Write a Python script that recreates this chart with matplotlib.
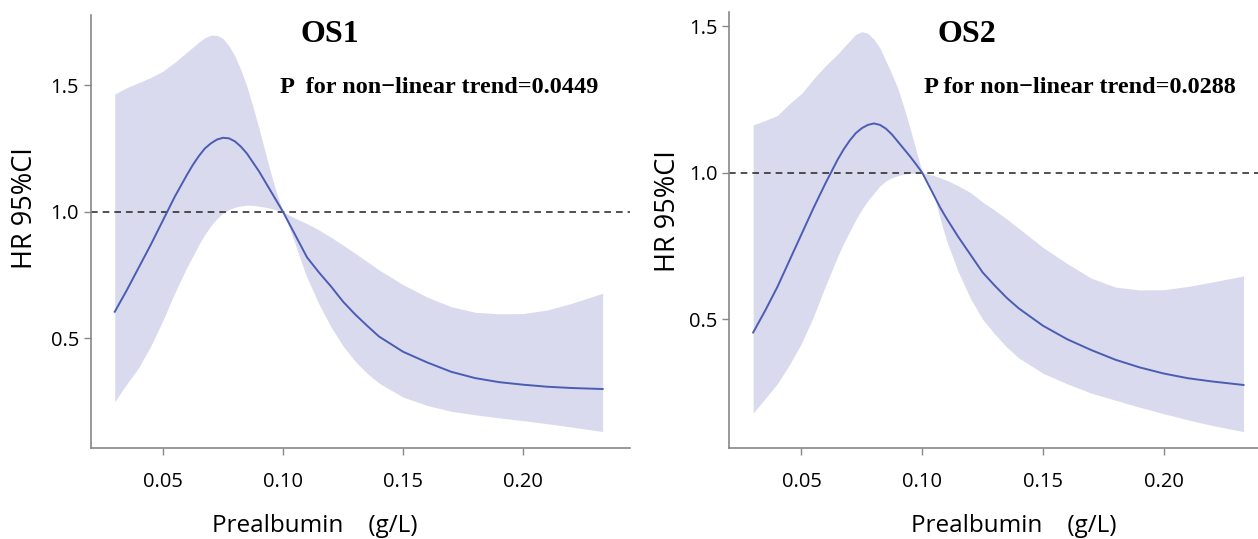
import matplotlib
matplotlib.use("Agg")
import matplotlib.pyplot as plt

# ---------------- data ----------------
x_os1 = [0.030, 0.035, 0.040, 0.045, 0.050, 0.055, 0.060, 0.0625, 0.065, 0.0675,
         0.070, 0.0725, 0.075, 0.0775, 0.080, 0.0825, 0.085, 0.0875, 0.090, 0.0925,
         0.095, 0.0975, 0.100, 0.1025, 0.105, 0.1075, 0.110, 0.115, 0.120, 0.125,
         0.130, 0.135, 0.140, 0.150, 0.160, 0.170, 0.180, 0.190, 0.200, 0.210,
         0.220, 0.233]
hr_os1 = [0.605, 0.69, 0.78, 0.87, 0.965, 1.06, 1.145, 1.185, 1.22, 1.25,
          1.27, 1.285, 1.292, 1.29, 1.278, 1.257, 1.23, 1.195, 1.16, 1.12,
          1.08, 1.04, 1.0, 0.955, 0.91, 0.865, 0.82, 0.76, 0.705, 0.645,
          0.595, 0.55, 0.507, 0.447, 0.405, 0.368, 0.343, 0.327, 0.317, 0.309,
          0.304, 0.300]
up_os1 = [1.465, 1.49, 1.51, 1.53, 1.555, 1.59, 1.63, 1.65, 1.67, 1.687,
          1.697, 1.697, 1.685, 1.655, 1.615, 1.56, 1.495, 1.415, 1.33, 1.24,
          1.15, 1.07, 1.0, 0.987, 0.975, 0.964, 0.953, 0.928, 0.899, 0.868,
          0.836, 0.803, 0.770, 0.712, 0.663, 0.625, 0.603, 0.597, 0.598, 0.612,
          0.638, 0.678]
lo_os1 = [0.25, 0.32, 0.385, 0.47, 0.57, 0.68, 0.78, 0.825, 0.87, 0.91,
          0.945, 0.972, 0.995, 1.008, 1.018, 1.023, 1.026, 1.025, 1.022, 1.018,
          1.013, 1.007, 1.0, 0.94, 0.875, 0.805, 0.74, 0.635, 0.545, 0.47,
          0.41, 0.362, 0.323, 0.268, 0.235, 0.212, 0.198, 0.186, 0.175, 0.163,
          0.150, 0.132]

x_os2 = [0.030, 0.035, 0.040, 0.045, 0.050, 0.055, 0.060, 0.0625, 0.065, 0.0675,
         0.070, 0.0725, 0.075, 0.0775, 0.080, 0.0825, 0.085, 0.0875, 0.090, 0.0925,
         0.095, 0.0975, 0.100, 0.1025, 0.105, 0.1075, 0.110, 0.115, 0.120, 0.125,
         0.130, 0.135, 0.140, 0.150, 0.160, 0.170, 0.180, 0.190, 0.200, 0.210,
         0.220, 0.233]
hr_os2 = [0.455, 0.53, 0.61, 0.70, 0.79, 0.88, 0.965, 1.005, 1.045, 1.08,
          1.11, 1.135, 1.152, 1.163, 1.168, 1.163, 1.15, 1.13, 1.105, 1.08,
          1.055, 1.028, 1.0, 0.96, 0.92, 0.88, 0.845, 0.78, 0.72, 0.66,
          0.615, 0.573, 0.537, 0.478, 0.432, 0.395, 0.362, 0.336, 0.315, 0.299,
          0.288, 0.276]
up_os2 = [1.163, 1.178, 1.195, 1.235, 1.27, 1.32, 1.365, 1.385, 1.405, 1.428,
          1.45, 1.472, 1.481, 1.475, 1.455, 1.425, 1.38, 1.335, 1.285, 1.22,
          1.15, 1.075, 1.0, 0.995, 0.99, 0.982, 0.975, 0.955, 0.932, 0.90,
          0.872, 0.842, 0.81, 0.745, 0.69, 0.64, 0.610, 0.600, 0.601, 0.612,
          0.627, 0.648]
lo_os2 = [0.18, 0.23, 0.28, 0.345, 0.418, 0.51, 0.615, 0.665, 0.715, 0.76,
          0.80, 0.84, 0.875, 0.905, 0.93, 0.955, 0.972, 0.983, 0.99, 0.995,
          0.998, 0.999, 1.0, 0.965, 0.92, 0.84, 0.77, 0.66, 0.57, 0.50,
          0.45, 0.405, 0.368, 0.316, 0.28, 0.248, 0.224, 0.20, 0.178, 0.157,
          0.138, 0.117]

titles = ["OS1", "OS2"]
p_texts = ["P  for non\u2212linear trend=0.0449", "P for non\u2212linear trend=0.0288"]
xticks = [0.05, 0.10, 0.15, 0.20]
xtick_labels = ["0.05", "0.10", "0.15", "0.20"]
yticks = [0.5, 1.0, 1.5]
ytick_labels = ["0.5", "1.0", "1.5"]
xlabel = "Prealbumin    (g/L)"
ylabel = "HR 95%CI"

# ---------------- style ----------------
band_color = "#d9daee"
line_color = "#4a5cb4"
spine_color = "#888888"
sans = ["Open Sans", "DejaVu Sans"]
serif = ["Liberation Serif", "DejaVu Serif"]

fig = plt.figure(figsize=(12.58, 5.39), dpi=100)
ax1 = fig.add_axes([0.0723, 0.1688, 0.4285, 0.8034])
ax2 = fig.add_axes([0.5795, 0.1688, 0.4205, 0.8089])

panels = [
    dict(ax=ax1, xs=x_os1, hr=hr_os1, up=up_os1, lo=lo_os1, xlim=(0.0201, 0.2444), ylim=(0.067, 1.777),
         ylab=(-0.096, 0.554), xlab=(0.4156, -0.152), title=titles[0], title_pos=(0.443, 0.955),
         ptext=p_texts[0], p_pos=(0.646, 0.833)),
    dict(ax=ax2, xs=x_os2, hr=hr_os2, up=up_os2, lo=lo_os2, xlim=(0.0200, 0.2390), ylim=(0.061, 1.548),
         ylab=(-0.089, 0.544), xlab=(0.538, -0.151), title=titles[1], title_pos=(0.45, 0.949),
         ptext=p_texts[1], p_pos=(0.663, 0.826)),
]

for p in panels:
    ax = p["ax"]
    ax.fill_between(p["xs"], p["lo"], p["up"], color=band_color, linewidth=0, zorder=1)
    ax.plot(p["xs"], p["hr"], color=line_color, linewidth=1.4, zorder=3)
    ax.axhline(1.0, color="#333333", linestyle=(0, (4, 3)), linewidth=1.2, zorder=2)
    ax.set_xlim(*p["xlim"])
    ax.set_ylim(*p["ylim"])
    for s in ["top", "right"]:
        ax.spines[s].set_visible(False)
    for s in ["left", "bottom"]:
        ax.spines[s].set_color(spine_color)
        ax.spines[s].set_linewidth(1.2)
    ax.set_xticks(xticks)
    ax.set_xticklabels(xtick_labels, fontsize=14.5, family=sans)
    ax.set_yticks(yticks)
    ax.set_yticklabels(ytick_labels, fontsize=14.5, family=sans)
    ax.tick_params(axis="both", colors=spine_color, labelcolor="black", length=5, width=1.0)
    ax.tick_params(axis="x", pad=12)
    ax.set_xlabel(xlabel, fontsize=17.5, family=sans)
    ax.set_ylabel(ylabel, fontsize=19.5, family=sans)
    ax.xaxis.set_label_coords(*p["xlab"])
    ax.yaxis.set_label_coords(*p["ylab"])
    ax.text(*p["title_pos"], p["title"], transform=ax.transAxes, ha="center", va="center",
            fontsize=23, fontweight="bold", family=serif)
    ax.text(*p["p_pos"], p["ptext"], transform=ax.transAxes, ha="center", va="center",
            fontsize=17.5, fontweight="bold", family=serif)

fig.savefig("out.png", dpi=100, facecolor="white")
